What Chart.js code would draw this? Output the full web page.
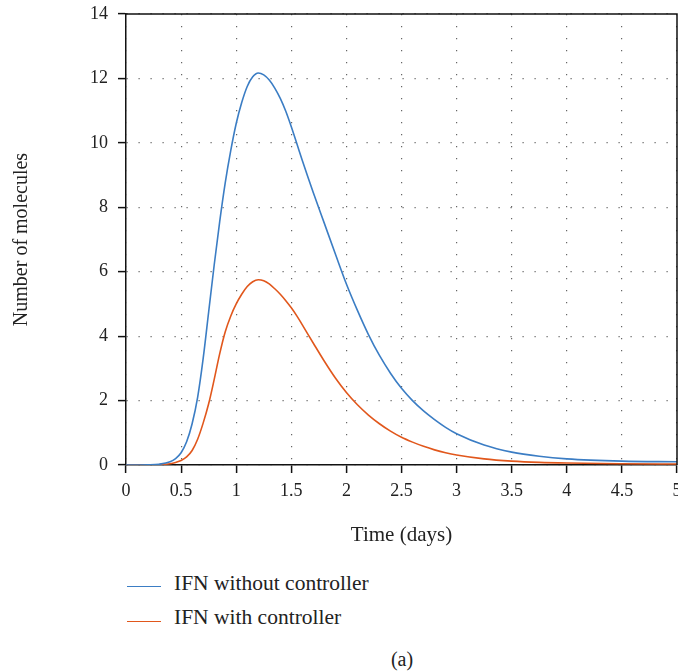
<!DOCTYPE html>
<html>
<head>
<meta charset="utf-8">
<script src="https://cdn.jsdelivr.net/npm/chart.js@4.4.1/dist/chart.umd.min.js"></script>
<style>
html,body{margin:0;padding:0;background:#fff;}
#wrap{position:relative;width:678px;height:672px;overflow:hidden;background:#fff;font-family:"Liberation Serif","DejaVu Serif",serif;color:#222;}
#chart{position:absolute;left:0;top:0;}
.legline{position:absolute;left:127px;width:34px;height:0;border-top:1.5px solid;}
.legtext{position:absolute;left:174px;font-size:21.5px;line-height:26px;white-space:nowrap;}
#cap{position:absolute;width:678px;text-align:center;font-size:20px;line-height:24px;}
</style>
</head>
<body>
<div id="wrap">
  <canvas id="chart" width="700" height="560"></canvas>
  <div class="legline" style="top:586px;border-color:#3b7dc4"></div>
  <div class="legtext" style="top:570px">IFN without controller</div>
  <div class="legline" style="top:621px;border-color:#e1571c"></div>
  <div class="legtext" style="top:604px">IFN with controller</div>
  <div id="cap" style="top:647px;left:63px">(a)</div>
</div>
<script>
// ---- data ----
const timeDays = [0, 0.1, 0.2, 0.3, 0.4, 0.45, 0.5, 0.55, 0.6, 0.65, 0.7, 0.75, 0.8, 0.85, 0.9, 0.95,
  1.0, 1.05, 1.1, 1.15, 1.2, 1.25, 1.3, 1.35, 1.4, 1.45, 1.5, 1.55, 1.6, 1.7, 1.8, 1.9, 2.0,
  2.1, 2.2, 2.3, 2.4, 2.5, 2.6, 2.7, 2.8, 2.9, 3.0, 3.25, 3.5, 3.75, 4.0, 4.5, 5.0];
const ifnWithoutController = [0, 0.001, 0.005, 0.025, 0.1, 0.2, 0.38, 0.72, 1.28, 2.1, 3.3, 4.75, 6.2, 7.55, 8.75, 9.75,
  10.6, 11.25, 11.75, 12.05, 12.17, 12.11, 11.95, 11.7, 11.38, 10.98, 10.5, 9.98, 9.45, 8.45, 7.5, 6.55, 5.62,
  4.8, 4.05, 3.4, 2.85, 2.38, 2.0, 1.68, 1.41, 1.17, 0.97, 0.62, 0.4, 0.27, 0.19, 0.12, 0.1];
const ifnWithController = [0, 0.0005, 0.002, 0.01, 0.04, 0.08, 0.14, 0.25, 0.45, 0.8, 1.3, 1.9, 2.65, 3.45, 4.13, 4.62,
  5.0, 5.3, 5.54, 5.69, 5.75, 5.72, 5.62, 5.47, 5.3, 5.1, 4.88, 4.63, 4.35, 3.78, 3.22, 2.7, 2.25,
  1.87, 1.55, 1.28, 1.05, 0.86, 0.71, 0.58, 0.47, 0.38, 0.31, 0.19, 0.12, 0.08, 0.06, 0.04, 0.03];
const xTickLabels = [0, 0.5, 1, 1.5, 2, 2.5, 3, 3.5, 4, 4.5, 5];
const yTickLabels = [0, 2, 4, 6, 8, 10, 12, 14];
const seriesNames = ['IFN without controller', 'IFN with controller'];

const FONT = '"Liberation Serif","DejaVu Serif",serif';
const frame = {
  id: 'frame',
  afterDatasetsDraw(chart) {
    const {ctx, chartArea: a} = chart;
    ctx.save();
    ctx.strokeStyle = '#111';
    ctx.lineWidth = 1.5;
    ctx.beginPath();
    ctx.moveTo(a.left, a.top);
    ctx.lineTo(a.right, a.top);
    ctx.lineTo(a.right, a.bottom);
    ctx.stroke();
    ctx.restore();
  }
};

const gridCommon = {
  color: '#666', lineWidth: 1.2,
  tickColor: '#111', tickWidth: 1.5, tickLength: 8, tickBorderDash: []
};
const borderCommon = {display: true, color: '#111', width: 1.5, dash: [1.2, 10.8]};

new Chart(document.getElementById('chart'), {
  type: 'line',
  data: {
    labels: timeDays,
    datasets: [
      {label: seriesNames[0], data: timeDays.map((t, i) => ({x: t, y: ifnWithoutController[i]})),
       borderColor: '#3b7dc4', borderWidth: 1.6, pointRadius: 0, cubicInterpolationMode: 'monotone', fill: false},
      {label: seriesNames[1], data: timeDays.map((t, i) => ({x: t, y: ifnWithController[i]})),
       borderColor: '#e1571c', borderWidth: 1.6, pointRadius: 0, cubicInterpolationMode: 'monotone', fill: false}
    ]
  },
  options: {
    responsive: false,
    animation: false,
    devicePixelRatio: 1,
    layout: {padding: {left: 0, top: 14, right: 23, bottom: 0}},
    plugins: {legend: {display: false}, tooltip: {enabled: false}},
    scales: {
      x: {
        type: 'linear', min: 0, max: 5,
        afterBuildTicks: s => { s.ticks = xTickLabels.map(v => ({value: v})); },
        ticks: {color: '#222', font: {family: FONT, size: 18}, padding: 7, maxRotation: 0,
                callback: v => String(v)},
        grid: gridCommon,
        border: borderCommon,
        title: {display: true, text: 'Time (days)', color: '#222', font: {family: FONT, size: 21}, padding: {top: 0, bottom: 12}},
        afterFit: s => { s.height = 95; s.paddingLeft = 0; s.paddingRight = 0; }
      },
      y: {
        type: 'linear', min: 0, max: 14,
        afterBuildTicks: s => { s.ticks = yTickLabels.map(v => ({value: v})); },
        ticks: {color: '#222', font: {family: FONT, size: 18}, padding: 10, callback: v => String(v)},
        grid: gridCommon,
        border: borderCommon,
        title: {display: true, text: 'Number of molecules', color: '#222', font: {family: FONT, size: 20}, padding: {top: 10, bottom: 0}},
        afterFit: s => { s.width = 126; s.paddingTop = 0; s.paddingBottom = 0; }
      }
    }
  },
  plugins: [frame]
});
</script>
</body>
</html>
